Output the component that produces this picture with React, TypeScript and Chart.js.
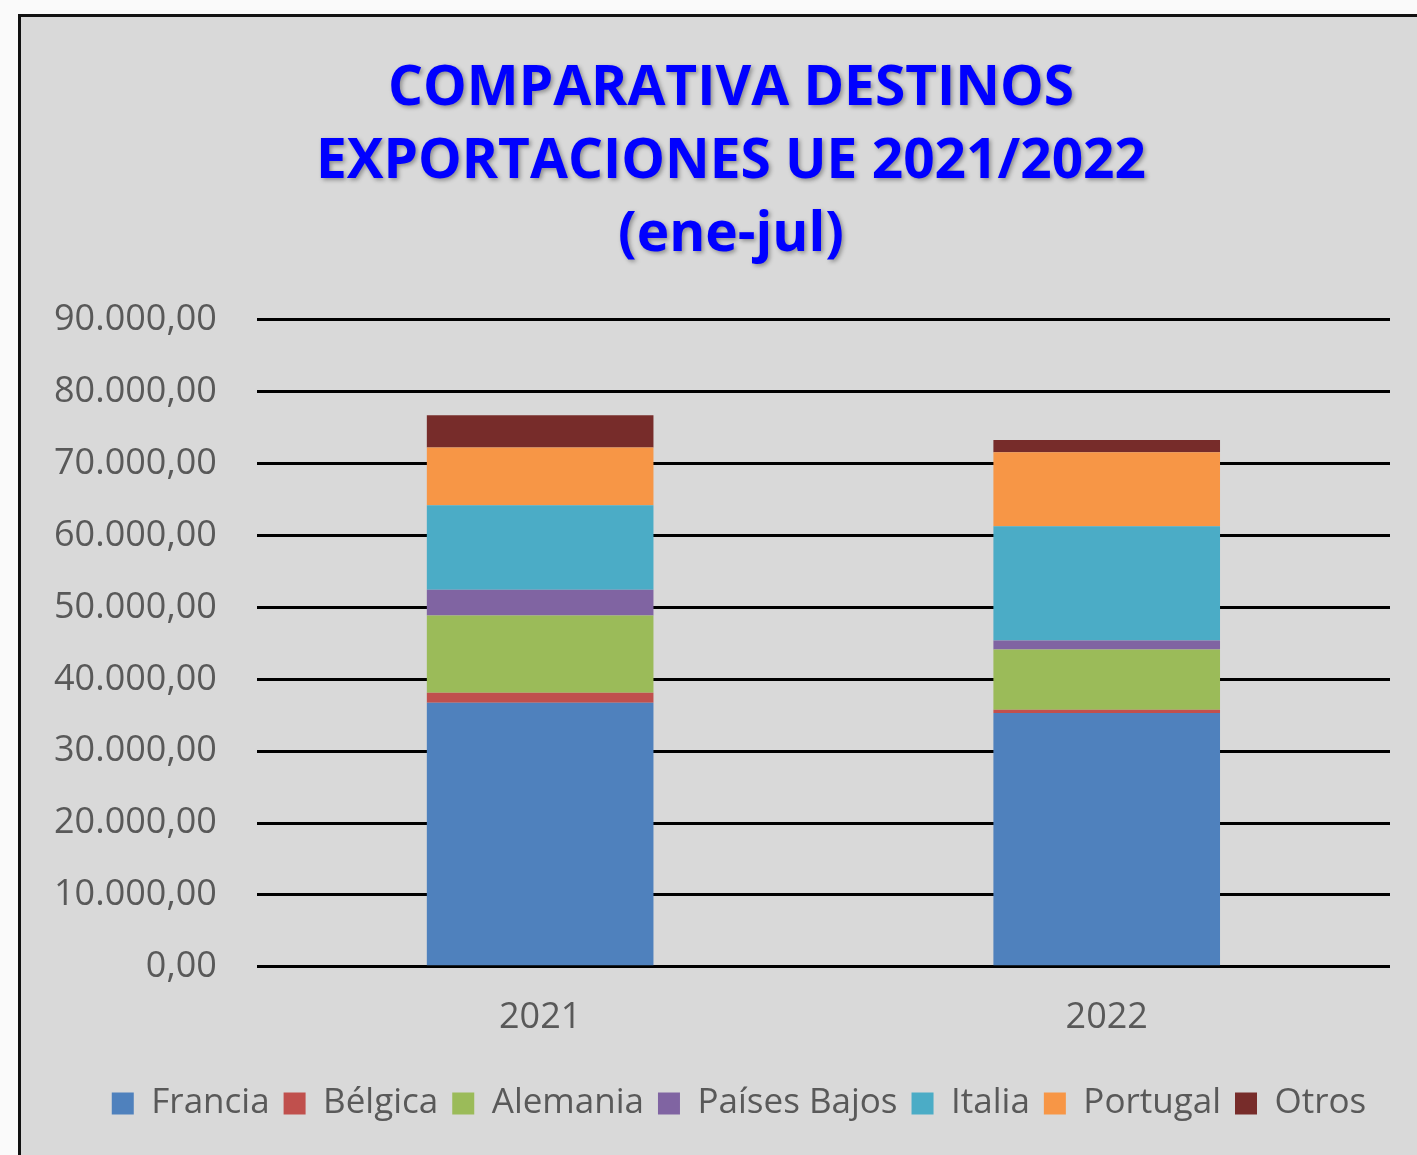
import React, { useEffect, useRef } from "react";
import { Chart, registerables } from "chart.js";

Chart.register(...registerables);

const categories = ["2021", "2022"];
const seriesNames = ["Francia", "Bélgica", "Alemania", "Países Bajos", "Italia", "Portugal", "Otros"];
const francia = [36730, 35330];
const belgica = [1390, 420];
const alemania = [10770, 8400];
const paisesBajos = [3570, 1250];
const italia = [11750, 15880];
const portugal = [8030, 10310];
const otros = [4500, 1710];
const seriesColors = ["#4f81bd", "#c0504d", "#9bbb59", "#8064a2", "#4bacc6", "#f79646", "#772c2a"];
const titleLines = ["COMPARATIVA DESTINOS", "EXPORTACIONES UE 2021/2022", "(ene-jul)"];
const yTicks = [0, 10000, 20000, 30000, 40000, 50000, 60000, 70000, 80000, 90000];

const FONT = "'Open Sans', sans-serif";

function fmt(v: number): string {
  const s = Math.round(v).toString().replace(/\B(?=(\d{3})+(?!\d))/g, ".");
  return s + ",00";
}

const frame = {
  id: "frame",
  beforeDraw(chart: any) {
    const ctx = chart.ctx;
    ctx.save();
    ctx.fillStyle = "#fafafa";
    ctx.fillRect(0, 0, chart.width, chart.height);
    ctx.fillStyle = "#d9d9d9";
    ctx.fillRect(18, 14, chart.width, chart.height);
    ctx.strokeStyle = "#111";
    ctx.lineWidth = 3;
    ctx.beginPath();
    ctx.moveTo(19.5, chart.height + 5);
    ctx.lineTo(19.5, 15.5);
    ctx.lineTo(chart.width + 5, 15.5);
    ctx.stroke();
    ctx.restore();
  },
  afterLayout(chart: any) {
    const tb = chart.titleBlock;
    if (tb) {
      tb.left += 29;
      tb.right += 29;
      if (!tb._shadowWrapped) {
        const orig = tb.draw.bind(tb);
        tb.draw = (...args: any[]) => {
          const ctx = chart.ctx;
          ctx.save();
          ctx.shadowColor = "rgba(0,0,0,0.35)";
          ctx.shadowBlur = 4;
          ctx.shadowOffsetX = 2;
          ctx.shadowOffsetY = 2;
          orig(...args);
          ctx.restore();
        };
        tb._shadowWrapped = true;
      }
    }
    const lg = chart.legend;
    if (lg) {
      lg.left += 37;
      lg.right += 37;
    }
  },
};

export default function App() {
  const ref = useRef<HTMLCanvasElement | null>(null);
  useEffect(() => {
    const data = [francia, belgica, alemania, paisesBajos, italia, portugal, otros];
    const chart = new Chart(ref.current as HTMLCanvasElement, {
      type: "bar",
      data: {
        labels: categories,
        datasets: seriesNames.map((n, i) => ({
          label: n,
          data: data[i],
          backgroundColor: seriesColors[i],
          borderWidth: 0,
          barPercentage: 0.4,
          categoryPercentage: 1,
        })),
      },
      options: {
        animation: false,
        responsive: false,
        maintainAspectRatio: false,
        layout: { padding: { left: 14, right: 27, top: 0, bottom: 24 } },
        plugins: {
          title: {
            display: true,
            text: titleLines,
            color: "#0000ff",
            font: { family: FONT, size: 55, weight: "bold", lineHeight: 1.327 },
            padding: { top: 53, bottom: 48 },
          },
          legend: {
            position: "bottom",
            labels: {
              color: "#595959",
              font: { family: FONT, size: 35 },
              boxWidth: 22,
              boxHeight: 22,
              padding: 14,
            },
          },
          tooltip: { enabled: false },
        },
        scales: {
          x: {
            stacked: true,
            grid: { display: false },
            border: { display: false },
            ticks: { color: "#595959", font: { family: FONT, size: 36 }, padding: 21 },
            afterFit: (scale: any) => {
              scale.height += 12;
            },
          },
          y: {
            stacked: true,
            min: 0,
            max: 90000,
            afterBuildTicks: (axis: any) => {
              axis.ticks = yTicks.map((v) => ({ value: v }));
            },
            grid: { color: "#000", lineWidth: 3, drawTicks: false },
            border: { display: false },
            ticks: {
              color: "#595959",
              font: { family: FONT, size: 36 },
              padding: 40,
              callback: (v: any) => fmt(Number(v)),
            },
          },
        },
      },
      plugins: [frame],
    });
    return () => chart.destroy();
  }, []);
  return (
    <div style={{ position: "absolute", left: 0, top: 0, width: 1417, height: 1155 }}>
      <canvas ref={ref} width={1417} height={1155} style={{ display: "block" }} />
    </div>
  );
}
